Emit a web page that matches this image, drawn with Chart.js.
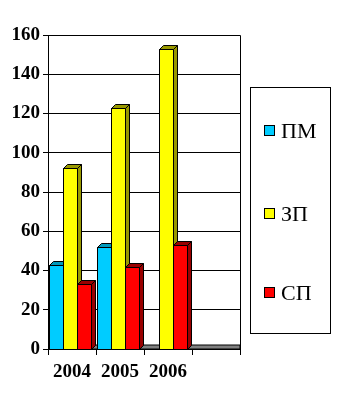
<!DOCTYPE html>
<html>
<head>
<meta charset="utf-8">
<script src="https://cdn.jsdelivr.net/npm/chart.js@4.4.1/dist/chart.umd.min.js"></script>
<style>
  html, body { margin: 0; padding: 0; background: #fff; }
  #chart { display: block; }
</style>
</head>
<body>
<canvas id="chart" width="337" height="412"></canvas>
<script>
// ── Data ──────────────────────────────────────────────────────────────────
const years    = ['2004', '2005', '2006', ''];
const pmValues = [43, 52, 0, null];
const zpValues = [92, 123, 153, null];
const spValues = [33, 42, 53, null];
const yTicks   = [0, 20, 40, 60, 80, 100, 120, 140, 160];

const seriesNames = ['ПМ', 'ЗП', 'СП'];
const faceColors  = ['#00CCFF', '#FFFF00', '#FF0000'];
const shadeColors = ['#0099BB', '#999900', '#990000'];

const DEPTH = 4;
const NUDGE = -2;   // groups sit slightly left so front + depth fill the slot
const SERIF = '"Liberation Serif", "Times New Roman", serif';

// ── 3D bar faces: front, top, side per category, left to right ──────────
const bars3d = {
    id: 'bars3d',
    beforeDatasetsDraw(chart) {
        const { ctx, chartArea: a } = chart;
        // grey floor strip
        ctx.save();
        ctx.fillStyle = '#808080';
        ctx.strokeStyle = '#000';
        ctx.lineWidth = 1;
        ctx.beginPath();
        ctx.moveTo(a.left, a.bottom);
        ctx.lineTo(a.left + DEPTH, a.bottom - DEPTH);
        ctx.lineTo(a.right, a.bottom - DEPTH);
        ctx.lineTo(a.right, a.bottom);
        ctx.closePath();
        ctx.fill();
        ctx.stroke();
        ctx.restore();
    },
    afterDatasetsDraw(chart) {
        const { ctx } = chart;
        const metas = chart.data.datasets.map((_, i) => chart.getDatasetMeta(i));
        ctx.save();
        ctx.lineWidth = 1;
        ctx.strokeStyle = '#000';
        for (let c = 0; c < years.length; c++) {
            metas.forEach((meta, d) => {
                const v = chart.data.datasets[d].data[c];
                if (!v) return;
                const el = meta.data[c];
                const { x, y, base, width } = el.getProps(['x', 'y', 'base', 'width'], true);
                const l = Math.round(x - width / 2 + NUDGE) + 0.5;
                const r = Math.round(x + width / 2 + NUDGE) + 0.5;
                const t = Math.round(y) + 0.5;
                const b = Math.round(base) + 0.5;

                // front
                ctx.fillStyle = faceColors[d];
                ctx.fillRect(l, t, r - l, b - t);
                ctx.strokeRect(l, t, r - l, b - t);

                // top
                ctx.fillStyle = shadeColors[d];
                ctx.beginPath();
                ctx.moveTo(l, t);
                ctx.lineTo(l + DEPTH, t - DEPTH);
                ctx.lineTo(r + DEPTH, t - DEPTH);
                ctx.lineTo(r, t);
                ctx.closePath();
                ctx.fill();
                ctx.stroke();

                // side
                ctx.beginPath();
                ctx.moveTo(r, t);
                ctx.lineTo(r + DEPTH, t - DEPTH);
                ctx.lineTo(r + DEPTH, b - DEPTH);
                ctx.lineTo(r, b);
                ctx.closePath();
                ctx.fill();
                ctx.stroke();
            });
        }
        ctx.restore();
    },
};

// ── Plot frame and boxed legend ───────────────────────────────────────────
const frameAndLegend = {
    id: 'frameAndLegend',
    beforeDatasetsDraw(chart) {
        const { ctx, chartArea: a } = chart;
        ctx.save();
        ctx.strokeStyle = '#000';
        ctx.lineWidth = 1;
        ctx.beginPath();
        ctx.moveTo(a.left + 0.5, a.top + 0.5);
        ctx.lineTo(a.right + 0.5, a.top + 0.5);
        ctx.lineTo(a.right + 0.5, a.bottom);
        ctx.stroke();
        ctx.restore();
    },
    afterDraw(chart) {
        const { ctx } = chart;
        ctx.save();
        ctx.strokeStyle = '#000';
        ctx.lineWidth = 1;
        ctx.strokeRect(250.5, 87.5, 80, 246);

        const rows = [131, 214, 293];
        ctx.font = '22px ' + SERIF;
        ctx.textBaseline = 'middle';
        seriesNames.forEach((name, i) => {
            const cy = rows[i];
            ctx.fillStyle = faceColors[i];
            ctx.fillRect(264.5, cy - 5.5, 10, 10);
            ctx.strokeRect(264.5, cy - 5.5, 10, 10);
            ctx.fillStyle = '#000';
            ctx.fillText(name, 281, cy + 1);
        });
        ctx.restore();
    },
};

new Chart(document.getElementById('chart'), {
    type: 'bar',
    data: {
        labels: years,
        datasets: [
            { label: seriesNames[0], data: pmValues, backgroundColor: faceColors[0] },
            { label: seriesNames[1], data: zpValues, backgroundColor: faceColors[1] },
            { label: seriesNames[2], data: spValues, backgroundColor: faceColors[2] },
        ],
    },
    options: {
        responsive: false,
        animation: false,
        devicePixelRatio: 1,
        categoryPercentage: 0.88,
        barPercentage: 1.0,
        layout: { padding: { top: 35, right: 97, left: 0, bottom: 0 } },
        plugins: {
            legend:  { display: false },
            tooltip: { enabled: false },
        },
        scales: {
            x: {
                afterFit: (s) => { s.height = 63; },
                grid:   { display: true, drawOnChartArea: false, drawTicks: true, tickLength: 6, color: '#000', offset: true },
                border: { display: true, color: '#000' },
                ticks:  { color: '#000', padding: 6, font: { family: SERIF, size: 19, weight: 'bold' } },
            },
            y: {
                min: 0,
                max: 160,
                afterFit: (s) => { s.width = 48; },
                afterBuildTicks: (s) => { s.ticks = yTicks.map(v => ({ value: v })); },
                grid:   { color: '#000', tickLength: 5, lineWidth: 1 },
                border: { display: true, color: '#000' },
                ticks:  { color: '#000', padding: 3, font: { family: SERIF, size: 19, weight: 'bold' } },
            },
        },
    },
    plugins: [frameAndLegend, bars3d],
});
</script>
</body>
</html>
